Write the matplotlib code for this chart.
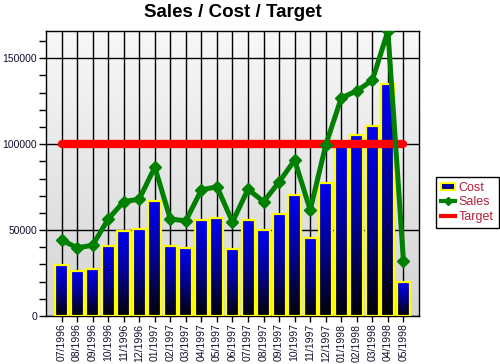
import numpy as np
import matplotlib
matplotlib.use("Agg")
import matplotlib.pyplot as plt
from matplotlib.colors import LinearSegmentedColormap
from matplotlib.lines import Line2D
from matplotlib.patches import Patch

plt.rcParams['font.family'] = ['Liberation Sans', 'DejaVu Sans']

months = ["07/1996", "08/1996", "09/1996", "10/1996", "11/1996", "12/1996",
          "01/1997", "02/1997", "03/1997", "04/1997", "05/1997", "06/1997",
          "07/1997", "08/1997", "09/1997", "10/1997", "11/1997", "12/1997",
          "01/1998", "02/1998", "03/1998", "04/1998", "05/1998"]
cost = [29600, 26300, 27100, 40700, 49600, 50800, 66700, 40700, 39700, 55600,
        57000, 39100, 55600, 50000, 59500, 70500, 45500, 77500, 99500, 105200,
        110500, 134900, 19900]
sales = [44200, 39700, 41100, 56400, 66500, 68000, 86600, 56400, 55400, 73400,
         75200, 54700, 73800, 66500, 78000, 90700, 61600, 99500, 126900, 131000,
         137200, 165900, 32000]
target = [100000] * len(months)

x = np.arange(len(months))

fig = plt.figure(figsize=(5, 3.64), dpi=100)
ax = fig.add_axes([0.092, 0.132, 0.746, 0.783])

# plot background: grey at the top fading to white
bg = np.linspace(0, 1, 256).reshape(-1, 1)
bg_cmap = LinearSegmentedColormap.from_list("bg", ["#d4d4d4", "#f8f8f8"])
ax.imshow(bg, cmap=bg_cmap, extent=[0, 1, 1, 0], transform=ax.transAxes,
          aspect="auto", zorder=0)

# bars with a blue -> black gradient and yellow border
bar_cmap = LinearSegmentedColormap.from_list("bar", ["#0000f4", "#000090", "#000008"])
bars = ax.bar(x, cost, width=0.84, facecolor="none", edgecolor="#ffff00",
              linewidth=1.6, zorder=3)
grad = np.linspace(0, 1, 128).reshape(-1, 1)
for b in bars:
    x0, w, h = b.get_x(), b.get_width(), b.get_height()
    im = ax.imshow(grad, cmap=bar_cmap, extent=[x0, x0 + w, 0, h],
                   aspect="auto", zorder=2.5)
    im.set_clip_path(b)

ax.plot(x, target, color="#ff0000", linewidth=6, solid_capstyle="round", zorder=4)
ax.plot(x, sales, color="#008000", linewidth=3.6, marker="D", markersize=6,
        zorder=5)

ax.set_xlim(-1, len(months))
ax.set_ylim(0, max(sales))
ax.set_xticks(x)
ax.set_xticklabels(months, rotation=90, fontsize=7.5, color="#101030")
ax.set_yticks([0, 50000, 100000, 150000])
ax.set_yticklabels(["0", "50000", "100000", "150000"], fontsize=7.5, color="#101030")
ax.set_yticks(np.arange(0, max(sales), 10000), minor=True)
ax.tick_params(axis="y", which="both", length=5, width=1, pad=1.5)
ax.tick_params(axis="x", length=4, width=1, pad=1.5)
ax.grid(axis="x", color="black", linewidth=1)
ax.grid(axis="y", which="major", color="black", linewidth=1)
ax.set_axisbelow(True)
for s in ax.spines.values():
    s.set_linewidth(1)

ax.set_title("Sales / Cost / Target", fontsize=13.5, fontweight="bold", pad=10)

handles = [Patch(facecolor="#000090", edgecolor="#ffff00", linewidth=1.5),
           Line2D([], [], color="#008000", linewidth=3, marker="D", markersize=4),
           Line2D([], [], color="#ff0000", linewidth=3)]
leg = fig.legend(handles, ["Cost", "Sales", "Target"], loc="upper left",
                 bbox_to_anchor=(0.872, 0.514), fontsize=9, fancybox=False,
                 framealpha=1, edgecolor="black", handlelength=1.1,
                 handletextpad=0.3, borderpad=0.4, labelspacing=0.2,
                 borderaxespad=0, handleheight=0.6)
leg.get_frame().set_linewidth(1)
for t in leg.get_texts():
    t.set_color("#b0203c")

fig.savefig("out.png", dpi=100)
